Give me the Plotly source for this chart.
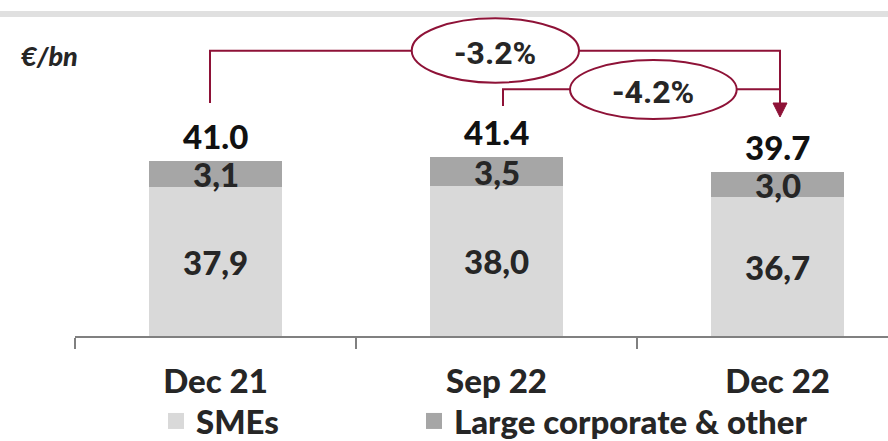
import plotly.graph_objects as go

# ---------------- data ----------------
categories = ["Dec 21", "Sep 22", "Dec 22"]
smes = [37.9, 38.0, 36.7]
large_corp = [3.1, 3.5, 3.0]
totals = [41.0, 41.4, 39.7]
sme_labels = ["37,9", "38,0", "36,7"]
large_labels = ["3,1", "3,5", "3,0"]
total_labels = ["41.0", "41.4", "39.7"]
growth_labels = ["-3.2%", "-4.2%"]   # Dec 21 -> Dec 22, Sep 22 -> Dec 22
series_names = ["SMEs", "Large corporate & other"]
unit_label = "€/bn"

# ---------------- layout constants ----------------
W, H = 888, 441
ML, MT, MB, MR = 75, 0, 105, 0
PW, PH = W - ML - MR, H - MT - MB
Y_MIN, Y_MAX = 20.2, 60.2
X_MIN, X_MAX = -0.5, 2.393

RED = "#8E1237"
SME_C = "#d9d9d9"
LC_C = "#a6a6a6"
TXT = "#262626"
FONT = "Lato"
WT = 900
FS = 33


def xd(px):
    return X_MIN + (px - ML) * (X_MAX - X_MIN) / PW


def yd(py):
    return Y_MAX - (py - MT) * (Y_MAX - Y_MIN) / PH


xs = list(range(len(categories)))

fig = go.Figure()
fig.add_trace(go.Bar(x=xs, y=smes, name=series_names[0], marker_color=SME_C,
                     width=0.473, hoverinfo="skip", showlegend=False))
fig.add_trace(go.Bar(x=xs, y=large_corp, name=series_names[1], marker_color=LC_C,
                     width=0.473, hoverinfo="skip", showlegend=False))
# legend entries (square swatches)
for name, col, lg in zip(series_names, [SME_C, LC_C], ["legend", "legend2"]):
    fig.add_trace(go.Scatter(x=[None], y=[None], mode="markers", name=name, legend=lg,
                             marker=dict(symbol="square", size=18, color=col, line=dict(width=0)),
                             showlegend=True, hoverinfo="skip"))

ann = []
for i in xs:
    ann.append(dict(x=i, y=(Y_MIN + smes[i]) / 2, text=sme_labels[i], showarrow=False,
                    font=dict(family=FONT, size=FS, color=TXT, weight=WT)))
    ann.append(dict(x=i, y=smes[i] + large_corp[i] / 2, text=large_labels[i], showarrow=False,
                    font=dict(family=FONT, size=FS, color=TXT, weight=WT)))
    ann.append(dict(x=i, y=smes[i] + large_corp[i], text=total_labels[i], showarrow=False,
                    yanchor="bottom", yshift=3,
                    font=dict(family=FONT, size=FS, color="#111111", weight=WT)))

# growth bubbles
e1 = (411.7, 18.3, 579, 82.7)
e2 = (570, 60, 736.7, 119)
for (x0, y0, x1, y1), lab in zip([e1, e2], growth_labels):
    ann.append(dict(x=xd((x0 + x1) / 2), y=yd((y0 + y1) / 2 + 2), text=lab, showarrow=False,
                    font=dict(family="Roboto", size=32, color=TXT, weight=700)))

ann.append(dict(xref="paper", yref="paper", x=(19 - ML) / PW, y=(PH - 56) / PH,
                xanchor="left", yanchor="middle",
                text="<i>" + unit_label + "</i>", showarrow=False,
                font=dict(family=FONT, size=27, color=TXT, weight=WT)))

shapes = []
# top grey band
shapes.append(dict(type="rect", xref="paper", yref="paper", x0=-ML / PW, x1=1.0,
                   y0=(PH - 17) / PH, y1=(PH - 11) / PH, fillcolor="#e0e0e0", line=dict(width=0),
                   layer="below"))
# connectors
p1 = f"M {xd(210)},{yd(103)} L {xd(210)},{yd(50.7)} L {xd(780)},{yd(50.7)} L {xd(780)},{yd(105)}"
p2 = f"M {xd(503)},{yd(106)} L {xd(503)},{yd(89.3)} L {xd(780)},{yd(89.3)}"
for p in (p1, p2):
    shapes.append(dict(type="path", xref="x", yref="y", path=p, line=dict(color=RED, width=2)))
tri = f"M {xd(773)},{yd(103)} L {xd(787)},{yd(103)} L {xd(780)},{yd(117)} Z"
shapes.append(dict(type="path", xref="x", yref="y", path=tri, fillcolor=RED, line=dict(color=RED, width=1)))
for (x0, y0, x1, y1) in (e1, e2):
    shapes.append(dict(type="circle", xref="x", yref="y", x0=xd(x0), x1=xd(x1), y0=yd(y1), y1=yd(y0),
                       fillcolor="white", line=dict(color=RED, width=2)))

leg_common = dict(orientation="h", xanchor="left", yanchor="middle", xref="container", yref="container",
                  font=dict(family=FONT, size=FS, color=TXT, weight=WT), bgcolor="rgba(0,0,0,0)",
                  borderwidth=0, itemsizing="trace")

fig.update_layout(
    template="none",
    width=W, height=H,
    margin=dict(l=ML, r=MR, t=MT, b=MB, pad=0, autoexpand=False),
    barmode="stack",
    plot_bgcolor="white", paper_bgcolor="white",
    showlegend=True,
    legend=dict(x=156 / W, y=(H - 421) / H, **leg_common),
    legend2=dict(x=414 / W, y=(H - 421) / H, **leg_common),
    xaxis=dict(range=[X_MIN, X_MAX], tickvals=xs, ticktext=categories, ticks="",
               showline=True, linecolor="#808080", linewidth=1.5, showgrid=False, zeroline=False,
               automargin=False,
               tickfont=dict(family=FONT, size=FS, color=TXT, weight=WT), ticklabelstandoff=16,
               minor=dict(tickvals=[-0.5, 0.5, 1.5, 2.5], ticks="outside", ticklen=11,
                          tickcolor="#808080", tickwidth=1.5, showgrid=False)),
    yaxis=dict(range=[Y_MIN, Y_MAX], visible=False, automargin=False),
    annotations=ann,
    shapes=shapes,
)

fig.write_html("out.html", config={"displayModeBar": False, "staticPlot": True},
               post_script="document.body.style.margin='0';document.body.style.overflow='hidden';")
